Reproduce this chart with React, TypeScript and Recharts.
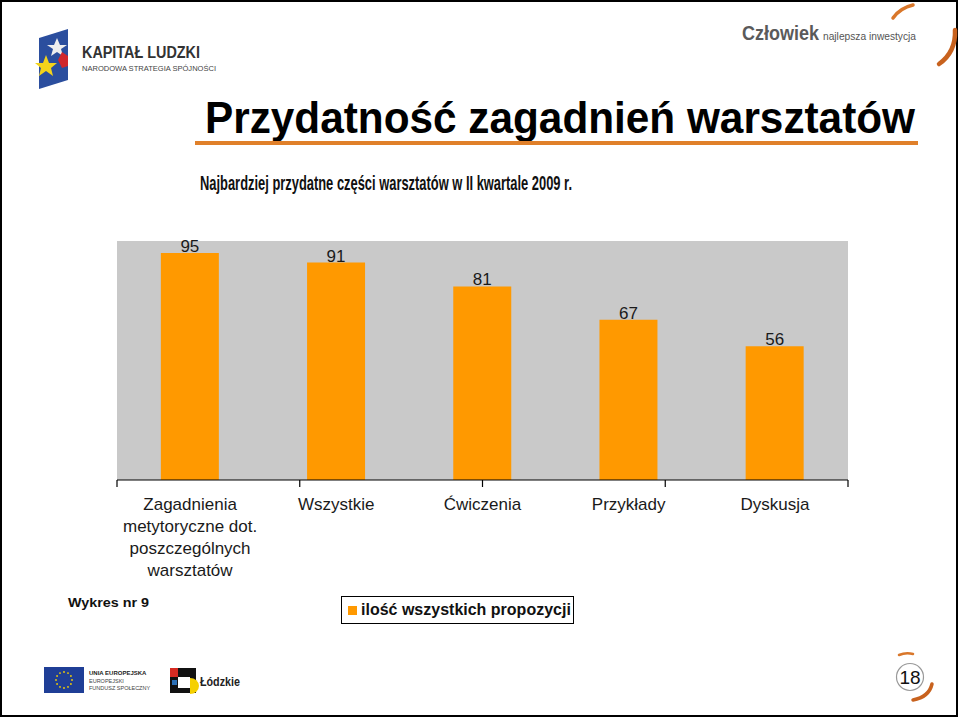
import React from "react";
import {
  BarChart,
  Bar,
  XAxis,
  YAxis,
  CartesianGrid,
  LabelList,
  Legend,
} from "recharts";

// values
const categories = [
  "Zagadnienia\nmetytoryczne dot.\nposzczególnych\nwarsztatów",
  "Wszystkie",
  "Ćwiczenia",
  "Przykłady",
  "Dyskusja",
];
const proposals = [95, 91, 81, 67, 56];
const edgeTicks = [0, 1, 2, 3, 4, 5];
const seriesName = "ilość wszystkich propozycji";

const data = categories.map((name, i) => ({ name, proposals: proposals[i] }));

const FONT = '"Liberation Sans", Arial, sans-serif';
const ORANGE = "#FF9900";

const CategoryTick = (props: any) => {
  const { x, y, payload } = props;
  const lines = String(payload.value).split("\n");
  return (
    <text x={x} y={y + 22} textAnchor="middle" fill="#1a1a1a" fontSize={17} fontFamily={FONT}>
      {lines.map((l, i) => (
        <tspan key={i} x={x} dy={i === 0 ? 0 : 22}>
          {l}
        </tspan>
      ))}
    </text>
  );
};

// only the tick marks are wanted on the boundary axis
const EmptyTick = () => <g />;

const LegendBox = () => (
  <div
    style={{
      border: "1.5px solid #000",
      background: "#fff",
      width: 233,
      height: 28,
      display: "flex",
      alignItems: "center",
      boxSizing: "border-box",
      paddingLeft: 6,
      fontFamily: FONT,
      fontWeight: "bold",
      fontSize: 16,
      color: "#111",
    }}
  >
    <span style={{ width: 9, height: 9, background: ORANGE, marginRight: 4, display: "inline-block" }} />
    {seriesName}
  </div>
);

const Decorations = () => (
  <svg width={960} height={718} style={{ position: "absolute", left: 0, top: 0 }}>
    <rect x={1} y={1} width={956} height={715} fill="none" stroke="#000" strokeWidth={2} />

    {/* Kapitał Ludzki logo */}
    <polygon points="39,38 68,29 68,80 39,89" fill="#2B4E9E" />
    <polygon points="57,38 60,45 67,45 61,49 63,56 57,52 51,56 53,49 47,45 54,45" fill="#eee" />
    <polygon points="62,52 68,56 68,66 62,68 58,60" fill="#D0272D" />
    <polygon points="46,55 49,63 57,63 51,68 53,76 46,71 39,76 41,68 35,63 43,63" fill="#F3D31B" />
    <text x={82} y={58} fontFamily={FONT} fontSize={16} fontWeight="bold" fill="#333" textLength={118} lengthAdjust="spacingAndGlyphs">
      KAPITAŁ LUDZKI
    </text>
    <text x={82} y={71} fontFamily={FONT} fontSize={8} fill="#444" textLength={134} lengthAdjust="spacingAndGlyphs">
      NARODOWA STRATEGIA SPÓJNOŚCI
    </text>

    {/* Człowiek logo */}
    <text x={742} y={40} fontFamily={FONT} fontSize={21} fontWeight="bold" fill="#5a5a5a" textLength={77} lengthAdjust="spacingAndGlyphs">
      Człowiek
    </text>
    <text x={823} y={40} fontFamily={FONT} fontSize={11} fill="#555" textLength={93} lengthAdjust="spacingAndGlyphs">
      najlepsza inwestycja
    </text>
    <path d="M893,18 Q900,8 913,5" stroke="#D9772A" strokeWidth={3.5} fill="none" strokeLinecap="round" />
    <path d="M955,30 Q956,52 939,64" stroke="#C8621E" strokeWidth={4.5} fill="none" strokeLinecap="round" />

    {/* title */}
    <text x={205} y={133} fontFamily={FONT} fontSize={45} fontWeight="bold" fill="#000" textLength={710} lengthAdjust="spacingAndGlyphs">
      Przydatność zagadnień warsztatów
    </text>
    <rect x={195} y={141} width={723} height={4} fill="#E0802A" />
    <text x={200} y={190} fontFamily={FONT} fontSize={21} fontWeight="bold" fill="#111" textLength={372} lengthAdjust="spacingAndGlyphs">
      Najbardziej przydatne części warsztatów w II kwartale 2009 r.
    </text>

    <text x={68} y={607} fontFamily={FONT} fontSize={13} fontWeight="bold" fill="#111" textLength={81} lengthAdjust="spacingAndGlyphs">
      Wykres nr 9
    </text>

    {/* EU logo */}
    <rect x={44} y={667} width={40} height={26} fill="#1F3E96" />
    {Array.from({ length: 12 }).map((_, i) => {
      const a = (i / 12) * Math.PI * 2;
      return <circle key={i} cx={64 + Math.cos(a) * 8} cy={680 + Math.sin(a) * 8} r={0.9} fill="#F5D000" />;
    })}
    <text x={89} y={675} fontFamily={FONT} fontSize={6} fontWeight="bold" fill="#222">UNIA EUROPEJSKA</text>
    <text x={89} y={683} fontFamily={FONT} fontSize={5.5} fill="#444">EUROPEJSKI</text>
    <text x={89} y={690} fontFamily={FONT} fontSize={5.5} fill="#444">FUNDUSZ SPOŁECZNY</text>

    {/* Łódzkie logo */}
    <rect x={170} y={668} width={26} height={25} fill="#111" />
    <rect x={170} y={668} width={8} height={9} fill="#D62B22" />
    <rect x={178} y={677} width={12} height={11} fill="#fff" />
    <rect x={172} y={680} width={5} height={5} fill="#2B6FB5" />
    <path d="M190,678 A9,8 0 0 1 190,694 Z" fill="#F5D000" />
    <text x={200} y={686} fontFamily={FONT} fontSize={13} fontWeight="bold" fill="#222" textLength={40} lengthAdjust="spacingAndGlyphs">
      Łódzkie
    </text>

    {/* page number */}
    <circle cx={910} cy={677} r={13.5} fill="#fff" stroke="#999" strokeWidth={1.2} />
    <text x={910} y={684} textAnchor="middle" fontFamily={FONT} fontSize={19} fill="#111">18</text>
    <path d="M899,655 Q906,652 913,654" stroke="#D9772A" strokeWidth={2.5} fill="none" strokeLinecap="round" />
    <path d="M932,684 Q929,697 913,700" stroke="#C8621E" strokeWidth={3.5} fill="none" strokeLinecap="round" />
  </svg>
);

export default function App() {
  return (
    <div style={{ position: "fixed", left: 0, top: 0, width: 960, height: 718, background: "#fff", overflow: "hidden" }}>
      <Decorations />
      <div style={{ position: "absolute", left: 0, top: 0 }}>
        <BarChart
          width={960}
          height={640}
          data={data}
          barCategoryGap="30%"
          margin={{ top: 241, right: 112, left: 117, bottom: 52 }}
        >
          <CartesianGrid horizontal={false} vertical={false} fill="#C9C9C9" />
          <XAxis
            type="number"
            domain={[0, 5]}
            ticks={edgeTicks}
            allowDataOverflow
            interval={0}
            height={8}
            tick={<EmptyTick />}
            tickSize={7}
            axisLine={{ stroke: "#000", strokeWidth: 1.2 }}
            tickLine={{ stroke: "#000", strokeWidth: 1.2 }}
          />
          <XAxis
            xAxisId="cat"
            dataKey="name"
            height={100}
            axisLine={false}
            tickLine={false}
            tickSize={0}
            tickMargin={0}
            interval={0}
            tick={<CategoryTick />}
          />
          <YAxis hide domain={[0, 100]} />
          <Legend
            layout="vertical"
            align="center"
            verticalAlign="middle"
            content={<LegendBox />}
            wrapperStyle={{ left: 341, top: 596, width: "auto", height: "auto" }}
          />
          <Bar dataKey="proposals" xAxisId="cat" name={seriesName} fill={ORANGE} isAnimationActive={false}>
            <LabelList dataKey="proposals" position="top" offset={1} fill="#1a1a1a" fontSize={17} fontFamily={FONT} />
          </Bar>
        </BarChart>
      </div>
    </div>
  );
}
